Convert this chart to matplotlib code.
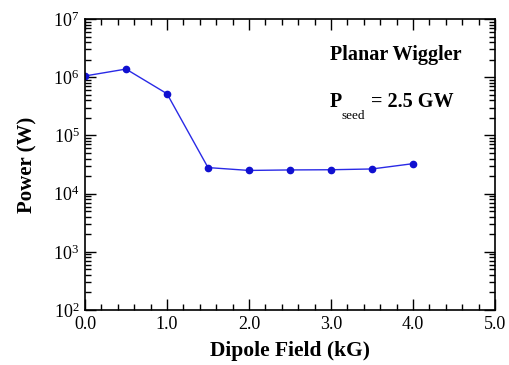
import matplotlib
matplotlib.use("Agg")
from matplotlib import pyplot as plt
from matplotlib.ticker import LogLocator, MultipleLocator, NullFormatter

# data
field_kg = [0.0, 0.5, 1.0, 1.5, 2.0, 2.5, 3.0, 3.5, 4.0]
power_w = [1.05e6, 1.38e6, 5.2e5, 2.8e4, 2.5e4, 2.55e4, 2.57e4, 2.65e4, 3.27e4]

plt.rcParams['font.family'] = ['Liberation Serif', 'DejaVu Serif']
plt.rcParams['mathtext.fontset'] = 'stix'

W, H = 510, 365
fig = plt.figure(figsize=(W / 100, H / 100), dpi=100, facecolor='white')
ax = fig.add_axes([85 / W, 1 - 310 / H, 410 / W, 291 / H])

ax.plot(field_kg, power_w, color='#2a2ae6', linewidth=1.0, marker='o',
        markersize=4.5, markerfacecolor='#1010d0', markeredgecolor='#1010d0')

ax.set_yscale('log')
ax.set_xlim(0, 5)
ax.set_ylim(1e2, 1e7)

ax.xaxis.set_major_locator(MultipleLocator(1.0))
ax.xaxis.set_minor_locator(MultipleLocator(0.2))
ax.xaxis.set_major_formatter(plt.FuncFormatter(lambda v, p: f'{v:.1f}'))
ax.yaxis.set_major_locator(LogLocator(base=10, numticks=10))
ax.yaxis.set_minor_locator(LogLocator(base=10, subs=range(2, 10), numticks=20))
ax.yaxis.set_minor_formatter(NullFormatter())

ax.tick_params(which='both', direction='in', top=True, right=True, width=1.0,
               labelsize=13, color='black')
ax.tick_params(which='major', length=8)
ax.tick_params(which='minor', length=4)
ax.tick_params(axis='x', pad=4)
ax.tick_params(axis='y', pad=4)
for s in ax.spines.values():
    s.set_linewidth(1.2)

ax.set_xlabel('Dipole Field (kG)', fontsize=15.5, fontweight='bold', labelpad=6)
ax.set_ylabel('Power (W)', fontsize=15, fontweight='bold', labelpad=11)


def fig_text(x, y, s, **kw):
    fig.text(x / W, 1 - y / H, s, va='center', ha='left', **kw)


fig_text(330, 55, 'Planar Wiggler', fontsize=14.5, fontweight='bold')
fig_text(330, 102, 'P', fontsize=14.5, fontweight='bold')
fig_text(342, 116, 'seed', fontsize=9.5)
fig_text(371, 102, '= 2.5 GW', fontsize=14.5, fontweight='bold')

fig.savefig('out.png', dpi=100)
